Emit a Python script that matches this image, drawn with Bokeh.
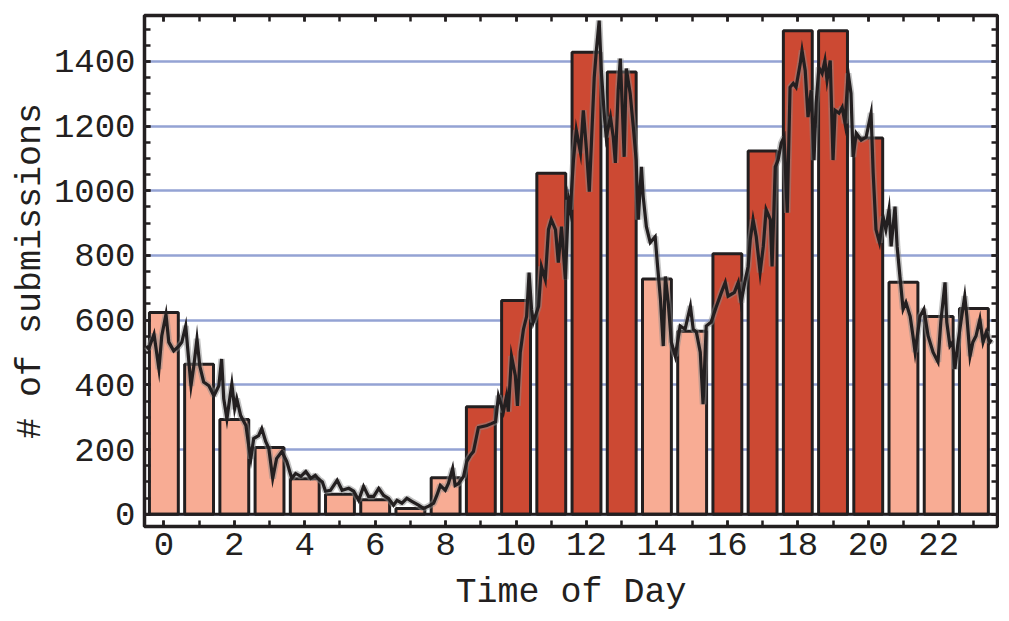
from bokeh.plotting import figure
from bokeh.models import (ColumnDataSource, Range1d, LinearAxis, SingleIntervalTicker, Span)
from bokeh.embed import file_html
from bokeh.resources import INLINE

# ---- data -------------------------------------------------------------
hours = list(range(24))
counts = [624, 464, 293, 206, 110, 62, 45, 18, 113, 332, 661, 1054,
          1428, 1367, 727, 566, 805, 1123, 1495, 1495, 1163, 717, 611, 636]
busy = [0, 0, 0, 0, 0, 0, 0, 0, 0, 1, 1, 1, 1, 1, 0, 0, 1, 1, 1, 1, 1, 0, 0, 0]

# fine-grained submission trace (hour of day shifted so bars are centred)
trace_t = [-0.50, -0.43, -0.28, -0.14, -0.06, 0.06, 0.14, 0.28, 0.43, 0.51, 0.62, 0.71,
           0.77, 0.85, 0.94, 1.02, 1.13, 1.28, 1.42, 1.56, 1.64, 1.70, 1.79, 1.87,
           1.93, 2.01, 2.07, 2.18, 2.33, 2.41, 2.47, 2.55, 2.69, 2.78, 2.89, 2.98,
           3.09, 3.20, 3.35, 3.49, 3.63, 3.74, 3.89, 4.03, 4.17, 4.30, 4.40, 4.50,
           4.59, 4.73, 4.92, 5.06, 5.25, 5.39, 5.53, 5.67, 5.81, 5.96, 6.10, 6.24,
           6.38, 6.52, 6.62, 6.76, 6.90, 7.04, 7.23, 7.37, 7.52, 7.66, 7.75, 7.85,
           7.99, 8.08, 8.20, 8.27, 8.37, 8.51, 8.60, 8.70, 8.79, 8.93, 9.17, 9.30,
           9.42, 9.50, 9.64, 9.73, 9.78, 9.87, 9.98, 10.04, 10.12, 10.21, 10.30, 10.37,
           10.44, 10.49, 10.64, 10.72, 10.83, 10.92, 11.00, 11.12, 11.20, 11.29, 11.40, 11.49,
           11.54, 11.63, 11.71, 11.83, 11.91, 12.00, 12.08, 12.14, 12.22, 12.28, 12.36, 12.42,
           12.51, 12.56, 12.68, 12.76, 12.82, 12.90, 12.96, 13.02, 13.07, 13.13, 13.24, 13.33,
           13.41, 13.47, 13.56, 13.61, 13.70, 13.81, 13.95, 14.01, 14.10, 14.18, 14.24, 14.32,
           14.41, 14.52, 14.66, 14.80, 14.95, 15.03, 15.12, 15.23, 15.31, 15.40, 15.54, 15.68,
           15.83, 15.94, 16.02, 16.20, 16.31, 16.39, 16.51, 16.59, 16.65, 16.73, 16.82, 16.93,
           17.02, 17.10, 17.22, 17.27, 17.36, 17.44, 17.53, 17.61, 17.70, 17.78, 17.87, 17.95,
           18.07, 18.12, 18.21, 18.29, 18.38, 18.46, 18.52, 18.60, 18.69, 18.77, 18.83, 18.92,
           19.00, 19.06, 19.17, 19.26, 19.34, 19.43, 19.51, 19.57, 19.66, 19.80, 19.94, 20.08,
           20.14, 20.22, 20.32, 20.42, 20.50, 20.59, 20.65, 20.76, 20.82, 20.90, 20.99, 21.07,
           21.19, 21.27, 21.33, 21.47, 21.58, 21.70, 21.84, 21.98, 22.06, 22.18, 22.23, 22.32,
           22.40, 22.46, 22.55, 22.63, 22.74, 22.80, 22.89, 22.97, 23.06, 23.17, 23.26, 23.35,
           23.45, 23.50]
trace_v = [520, 511, 557, 449, 551, 618, 532, 505, 520, 532, 582, 471,
           397, 458, 542, 458, 409, 397, 366, 397, 480, 357, 295, 357,
           403, 326, 357, 305, 274, 212, 172, 234, 243, 265, 225, 203,
           111, 172, 194, 163, 111, 126, 117, 132, 111, 120, 108, 100,
           71, 74, 105, 74, 80, 71, 43, 86, 55, 55, 80, 58,
           49, 28, 43, 34, 49, 40, 28, 18, 25, 34, 58, 89,
           74, 95, 142, 89, 95, 117, 163, 182, 194, 268, 274, 280,
           286, 366, 317, 366, 317, 489, 428, 335, 501, 572, 612, 747,
           634, 594, 643, 766, 726, 880, 911, 880, 778, 889, 726, 972,
           942, 1095, 1188, 1117, 1249, 1126, 997, 1148, 1351, 1434, 1526, 1372,
           1228, 1166, 1228, 1166, 1086, 1311, 1409, 1249, 1105, 1378, 1301, 1197,
           1095, 911, 1074, 982, 889, 840, 858, 778, 665, 520, 735, 655,
           532, 489, 582, 572, 643, 572, 563, 501, 340, 582, 594, 640,
           686, 717, 674, 686, 717, 655, 726, 766, 849, 911, 858, 748,
           828, 942, 911, 766, 1074, 1095, 1148, 1166, 932, 1320, 1332, 1320,
           1394, 1434, 1372, 1228, 1311, 1095, 1271, 1381, 1363, 1403, 1342, 1403,
           1095, 1249, 1240, 1258, 1209, 1363, 1301, 1105, 1178, 1157, 1166, 1240,
           1055, 880, 840, 920, 880, 942, 828, 951, 828, 735, 634, 655,
           612, 551, 501, 612, 634, 551, 501, 471, 594, 717, 594, 520,
           532, 449, 532, 594, 674, 612, 489, 532, 551, 603, 532, 563,
           532, 540]

x_ticks_labels_every = 2
y_tick_step = 200

# ---- styling -----------------------------------------------------------
LIGHT = "#F8AC94"
DARK = "#CC4933"
INK = "#231F20"
GRID = "#94A3D4"
FONT = "Liberation Mono"

src = ColumnDataSource(dict(hour=hours, count=counts,
                            color=[DARK if b else LIGHT for b in busy]))
trace = ColumnDataSource(dict(t=trace_t, v=trace_v))

p = figure(width=999, height=615,
           x_range=Range1d(-0.55, 23.67), y_range=Range1d(-38, 1542),
           output_backend="svg", toolbar_location=None,
           min_border_left=144, min_border_right=2,
           min_border_top=15, min_border_bottom=89,
           background_fill_color="white", border_fill_color="white")

p.outline_line_color = INK
p.outline_line_width = 3.5
p.xgrid.visible = False
p.ygrid.ticker = SingleIntervalTicker(interval=y_tick_step)
p.ygrid.grid_line_color = GRID
p.ygrid.grid_line_width = 2.5

p.vbar(x="hour", top="count", bottom=0, width=0.82, source=src,
       fill_color="color", line_color=INK, line_width=3)

p.add_layout(Span(location=0, dimension="width", line_color=INK, line_width=3))

p.line("t", "v", source=trace, line_color="#8A8A8A", line_alpha=0.5, line_width=6.5)
p.line("t", "v", source=trace, line_color=INK, line_width=3.2, line_join="miter")


def style_axis(ax, show_labels):
    ax.axis_line_color = None
    ax.major_tick_in = 6
    ax.major_tick_out = 0
    ax.minor_tick_in = 6
    ax.minor_tick_out = 0
    ax.major_tick_line_color = INK
    ax.minor_tick_line_color = INK
    ax.major_tick_line_width = 2.5
    ax.minor_tick_line_width = 2.5
    if show_labels:
        ax.major_label_text_font = FONT
        ax.major_label_text_font_size = "34px"
        ax.major_label_text_color = INK
    else:
        ax.major_label_text_font_size = "0px"
        ax.major_label_text_alpha = 0
        ax.major_label_standoff = 0


xt = SingleIntervalTicker(interval=x_ticks_labels_every, num_minor_ticks=2)
yt = SingleIntervalTicker(interval=y_tick_step, num_minor_ticks=4)

p.xaxis.ticker = xt
p.yaxis.ticker = yt
style_axis(p.xaxis[0], True)
style_axis(p.yaxis[0], True)
p.xaxis.major_label_standoff = 6
p.yaxis.major_label_standoff = 9
p.xaxis.axis_label = "Time of Day"
p.yaxis.axis_label = "# of submissions"
for ax in (p.xaxis[0], p.yaxis[0]):
    ax.axis_label_text_font = FONT
    ax.axis_label_text_font_size = "35px"
    ax.axis_label_text_font_style = "normal"
    ax.axis_label_text_color = INK
p.xaxis.axis_label_standoff = 15
p.yaxis.axis_label_standoff = 0

top = LinearAxis(ticker=SingleIntervalTicker(interval=x_ticks_labels_every, num_minor_ticks=2))
right = LinearAxis(ticker=SingleIntervalTicker(interval=y_tick_step, num_minor_ticks=4))
style_axis(top, False)
style_axis(right, False)
p.add_layout(top, "above")
p.add_layout(right, "right")

open("out.html", "w").write(file_html(p, INLINE))
